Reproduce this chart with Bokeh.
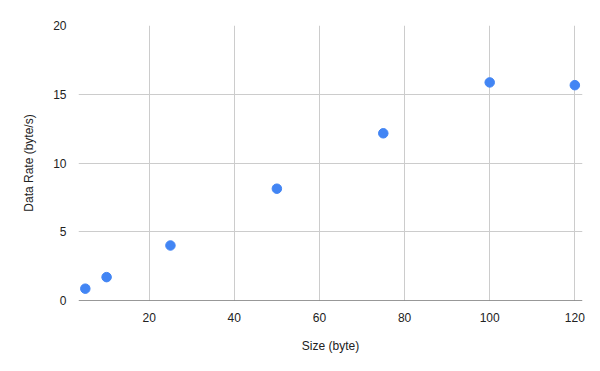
from bokeh.plotting import figure
from bokeh.models import Range1d, FixedTicker, Span
from bokeh.embed import file_html
from bokeh.resources import INLINE

sizes = [5, 10, 25, 50, 75, 100, 120]
data_rates = [0.86, 1.7, 4.0, 8.13, 12.16, 15.86, 15.66]
x_ticks = [20, 40, 60, 80, 100, 120]
y_ticks = [0, 5, 10, 15, 20]

p = figure(width=592, height=362, output_backend="svg", toolbar_location=None,
           x_range=Range1d(3.4, 121.8), y_range=Range1d(0, 20),
           min_border_left=78, min_border_right=10, min_border_top=25, min_border_bottom=62)
p.frame_width = 504
p.frame_height = 275
p.outline_line_color = None
p.background_fill_color = "white"
p.border_fill_color = "white"

p.scatter(sizes, data_rates, size=9.5, color="#4285F4", line_color="#4285F4")

for ax in (p.xaxis[0], p.yaxis[0]):
    ax.major_tick_line_color = None
    ax.minor_tick_line_color = None
    ax.major_label_text_font = "Liberation Sans"
    ax.major_label_text_font_size = "12px"
    ax.major_label_text_color = "#222222"
    ax.axis_label_text_font = "Liberation Sans"
    ax.axis_label_text_font_size = "12px"
    ax.axis_label_text_font_style = "normal"
    ax.axis_label_text_color = "#222222"

p.xaxis.ticker = FixedTicker(ticks=x_ticks)
p.yaxis.ticker = FixedTicker(ticks=y_ticks)
p.xaxis.axis_line_color = None
p.yaxis.axis_line_color = None
p.xaxis.axis_label = "Size (byte)"
p.yaxis.axis_label = "Data Rate (byte/s)"
p.xaxis.major_label_standoff = 6
p.yaxis.major_label_standoff = 6
p.xaxis.axis_label_standoff = 14
p.yaxis.axis_label_standoff = 14

p.xgrid.grid_line_color = "#cccccc"
p.ygrid.grid_line_color = "#cccccc"
p.xgrid.ticker = FixedTicker(ticks=x_ticks)
p.ygrid.ticker = FixedTicker(ticks=y_ticks)

p.add_layout(Span(location=0, dimension="width", line_color="#333333", line_width=1))

open("out.html", "w").write(file_html(p, INLINE))
